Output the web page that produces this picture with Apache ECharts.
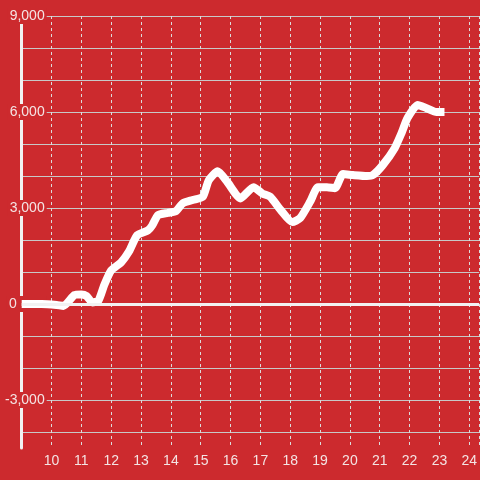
<!DOCTYPE html>
<html>
<head>
<meta charset="utf-8">
<script src="https://cdn.jsdelivr.net/npm/echarts@6/dist/echarts.min.js"></script>
<style>html,body{margin:0;padding:0;background:#cc2a2e;}#c{width:480px;height:480px;}</style>
</head>
<body>
<div id="c"></div>
<script>
const xValues = [9.0, 9.67, 10.17, 10.4, 10.77, 11.0, 11.17, 11.37, 11.57, 11.77, 12.0, 12.33, 12.6, 12.87, 13.23, 13.37, 13.57, 13.9, 14.17, 14.4, 14.73, 15.07, 15.27, 15.57, 15.9, 16.33, 16.77, 17.07, 17.33, 17.67, 18.07, 18.33, 18.67, 18.93, 19.23, 19.5, 19.77, 20.1, 20.57, 20.77, 21.1, 21.5, 21.73, 21.93, 22.27, 22.57, 22.9, 23.17];
const yValues = [0, 0, -30, -60, 280, 300, 250, 50, 100, 600, 1050, 1300, 1650, 2150, 2300, 2450, 2780, 2850, 2900, 3150, 3250, 3350, 3870, 4150, 3800, 3300, 3650, 3450, 3350, 2950, 2560, 2680, 3200, 3650, 3650, 3620, 4060, 4030, 4000, 4030, 4340, 4870, 5340, 5810, 6220, 6120, 6000, 6000];
const yGridValues = [-4000, -3000, -2000, -1000, 0, 1000, 2000, 3000, 4000, 5000, 6000, 7000, 8000, 9000];
const yLabelValues = [-3000, 0, 3000, 6000, 9000];
const xLabelValues = [10, 11, 12, 13, 14, 15, 16, 17, 18, 19, 20, 21, 22, 23, 24];

const BG = '#cc2a2e';
const chart = echarts.init(document.getElementById('c'), null, {renderer: 'canvas'});
const data = xValues.map((x, i) => [x, yValues[i]]);
chart.setOption({
  backgroundColor: BG,
  animation: false,
  grid: {left: 20, right: 0, top: 16, bottom: 32, containLabel: false},
  xAxis: {
    type: 'value', min: 9, max: 24.333, interval: 1,
    axisLine: {show: false}, axisTick: {show: false},
    axisLabel: {
      color: '#f4e4e4', fontSize: 14, fontFamily: 'Liberation Sans', margin: 6,
      customValues: xLabelValues,
      formatter: v => String(v)
    },
    splitLine: {show: true, lineStyle: {color: '#dcdcdc', type: [3, 3], width: 1}}
  },
  yAxis: [
    {
      type: 'value', min: -4500, max: 9000, z: 1,
      axisLine: {show: true, onZero: false, lineStyle: {color: '#f2f2f2', width: 3}},
      axisTick: {show: false},
      splitLine: {show: false},
      axisLabel: {
        inside: true, align: 'right', margin: 25,
        customValues: yLabelValues,
        color: '#f4e4e4', fontSize: 14, fontFamily: 'Liberation Sans',
        backgroundColor: BG, padding: [1, 2],
        formatter: v => v === 0 ? '{z|0}' : v.toLocaleString('en-US'),
        rich: {z: {color: '#f4e4e4', fontSize: 14, fontFamily: 'Liberation Sans', padding: [0, 28, 0, 0]}}
      }
    },
    {
      type: 'value', min: -4500, max: 9000, z: 0, position: 'left',
      axisLine: {show: false}, axisLabel: {show: false},
      axisTick: {show: false, customValues: yGridValues},
      splitLine: {show: true, lineStyle: {color: '#c8c8c8', width: 1}}
    }
  ],
  series: [{
    type: 'line', data: data, yAxisIndex: 0, z: 3,
    showSymbol: false, smooth: 0.2,
    lineStyle: {color: '#ffffff', width: 8, cap: 'butt', join: 'round'},
    markLine: {
      silent: true, symbol: 'none', label: {show: false},
      lineStyle: {color: '#f2f2f2', width: 3, type: 'solid'},
      data: [{yAxis: 0}]
    }
  }]
});
</script>
</body>
</html>
